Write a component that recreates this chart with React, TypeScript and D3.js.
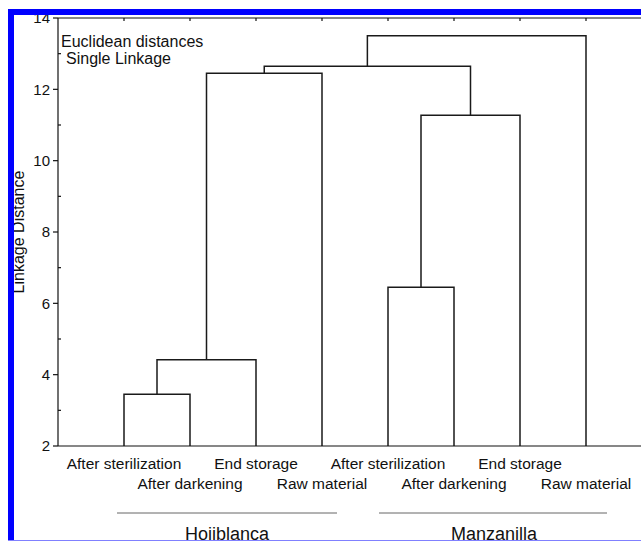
import { useEffect, useRef } from "react";
import * as d3 from "d3";

// leaves in dendrogram order, two varieties of four stages each
const leafLabels = [
  "After sterilization", "After darkening", "End storage", "Raw material",
  "After sterilization", "After darkening", "End storage", "Raw material",
];
// merges: node ids 0..7 are leaves, 8.. are merged clusters (in order)
const mergeLeft = [0, 8, 9, 4, 11, 10, 13];
const mergeRight = [1, 2, 3, 5, 6, 12, 7];
const mergeHeight = [3.45, 4.42, 12.45, 6.45, 11.27, 12.65, 13.5];

const yTicks = [2, 4, 6, 8, 10, 12, 14];
const yMinorTicks = [3, 5, 7, 9, 11, 13];

const groupNames = ["Hojiblanca", "Manzanilla"];
const groupFirst = [0, 4];
const groupLast = [3, 7];

const FONT = "Arial, 'Liberation Sans', Helvetica, sans-serif";

const App = () => {
  const ref = useRef<SVGSVGElement | null>(null);

  useEffect(() => {
    const el = ref.current;
    if (!el) return;
    d3.select(el).selectAll("*").remove();

    const W = 641, H = 541;
    const left = 58, top = 18, bottom = 446;
    const svg = d3.select(el).attr("width", W).attr("height", H);

    svg.append("rect").attr("width", W).attr("height", H).attr("fill", "#fff");

    // leaf i sits at i+1, axis starts at 0
    const x = d3.scaleLinear().domain([0, 9]).range([left, left + 66 * 9]);
    const y = d3.scaleLinear().domain([2, 14]).range([bottom, top]);

    // ── Dendrogram ───────────────────────────────────────────────
    const nodeX: number[] = leafLabels.map((_, i) => x(i + 1));
    const nodeH: number[] = leafLabels.map(() => 2);
    const links: string[] = [];
    mergeLeft.forEach((a, i) => {
      const b = mergeRight[i];
      const h = mergeHeight[i];
      links.push(
        `M${nodeX[a]},${y(nodeH[a])}V${y(h)}H${nodeX[b]}V${y(nodeH[b])}`
      );
      nodeX.push((nodeX[a] + nodeX[b]) / 2);
      nodeH.push(h);
    });

    svg.append("g")
      .selectAll("path")
      .data(links)
      .enter()
      .append("path")
      .attr("d", d => d)
      .attr("fill", "none")
      .attr("stroke", "#1a1a1a")
      .attr("stroke-width", 1.5);

    // ── Axes frame ───────────────────────────────────────────────
    const axis = svg.append("g").attr("stroke", "#111").attr("stroke-width", 1.2);
    axis.append("line").attr("x1", left).attr("x2", W).attr("y1", top).attr("y2", top);
    axis.append("line").attr("x1", left).attr("x2", W).attr("y1", bottom).attr("y2", bottom);
    axis.append("line").attr("x1", left).attr("x2", left).attr("y1", top).attr("y2", bottom);

    // top ticks at leaf positions
    leafLabels.forEach((_, i) => {
      axis.append("line")
        .attr("x1", x(i + 1)).attr("x2", x(i + 1))
        .attr("y1", top).attr("y2", top + 3);
    });

    // y ticks
    yTicks.forEach(t => {
      axis.append("line")
        .attr("x1", left - 5).attr("x2", left)
        .attr("y1", y(t)).attr("y2", y(t));
      svg.append("text")
        .attr("x", left - 8)
        .attr("y", y(t))
        .attr("dy", "0.35em")
        .attr("text-anchor", "end")
        .style("font-family", FONT)
        .style("font-size", "15px")
        .style("fill", "#111")
        .text(t);
    });
    yMinorTicks.forEach(t => {
      axis.append("line")
        .attr("x1", left).attr("x2", left + 3)
        .attr("y1", y(t)).attr("y2", y(t));
    });

    // ── Leaf labels (two staggered rows) ─────────────────────────
    leafLabels.forEach((lab, i) => {
      svg.append("text")
        .attr("x", x(i + 1))
        .attr("y", i % 2 === 0 ? 469 : 489)
        .attr("text-anchor", "middle")
        .style("font-family", FONT)
        .style("font-size", "15.5px")
        .style("fill", "#111")
        .text(lab);
    });

    // ── Group brackets ───────────────────────────────────────────
    groupNames.forEach((name, g) => {
      const x0 = x(groupFirst[g] + 1) - 7;
      const x1 = x(groupLast[g] + 1) + 15 + 6 * g;
      svg.append("line")
        .attr("x1", x0 - 2 * g).attr("x2", x1)
        .attr("y1", 513).attr("y2", 513)
        .attr("stroke", "#666")
        .attr("stroke-width", 1);
      svg.append("text")
        .attr("x", (x0 + x1) / 2)
        .attr("y", 540)
        .attr("text-anchor", "middle")
        .style("font-family", FONT)
        .style("font-size", "18px")
        .style("fill", "#111")
        .text(name);
    });

    // ── Title block ──────────────────────────────────────────────
    svg.append("text")
      .attr("x", 61).attr("y", 47)
      .style("font-family", FONT)
      .style("font-size", "16px")
      .style("fill", "#111")
      .text("Euclidean distances");
    svg.append("text")
      .attr("x", 66).attr("y", 64)
      .style("font-family", FONT)
      .style("font-size", "16px")
      .style("fill", "#111")
      .text("Single Linkage");

    // ── Y label ──────────────────────────────────────────────────
    svg.append("text")
      .attr("transform", `translate(24,${232}) rotate(-90)`)
      .attr("text-anchor", "middle")
      .style("font-family", FONT)
      .style("font-size", "16px")
      .style("fill", "#111")
      .text("Linkage Distance");

    // ── Blue frame ───────────────────────────────────────────────
    svg.append("rect").attr("x", 8).attr("y", 9).attr("width", W - 8).attr("height", 6).attr("fill", "#0000ff");
    svg.append("rect").attr("x", 8).attr("y", 9).attr("width", 6).attr("height", H - 9).attr("fill", "#0000ff");
    svg.append("rect").attr("x", 8).attr("y", 540).attr("width", W - 8).attr("height", 1).attr("fill", "#8080ff");

    return () => { d3.select(el).selectAll("*").remove(); };
  }, []);

  return (
    <svg
      ref={ref}
      style={{ position: "fixed", left: 0, top: 0, display: "block" }}
    />
  );
};

export default App;
